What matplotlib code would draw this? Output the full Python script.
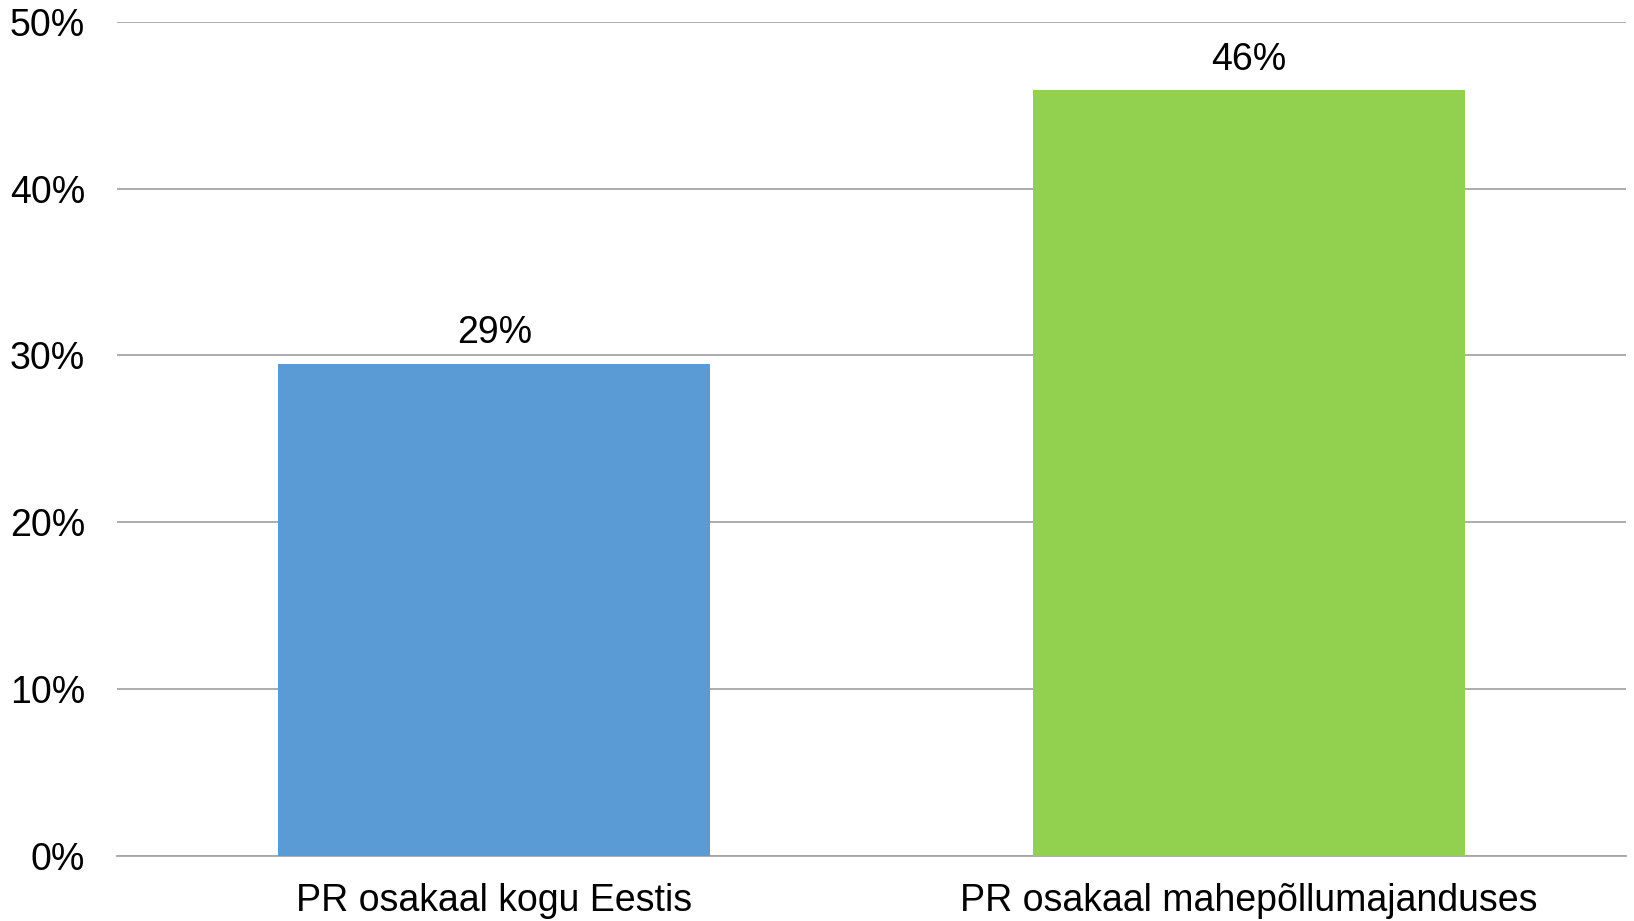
import matplotlib
matplotlib.use("Agg")
import matplotlib.pyplot as plt
from matplotlib.ticker import PercentFormatter

categories = ["PR osakaal kogu Eestis", "PR osakaal mahepõllumajanduses"]
values = [0.295, 0.459]
labels = ["29%", "46%"]
colors = ["#5B9BD5", "#92D050"]
yticks = [0, 0.1, 0.2, 0.3, 0.4, 0.5]

plt.rcParams['font.family'] = ['Liberation Sans', 'DejaVu Sans']

fig = plt.figure(figsize=(16.34, 9.21), dpi=100)
ax = fig.add_axes([117/1634, 1 - 855.6/921, (1626-117)/1634, (855.6-21.9)/921])

x = list(range(len(categories)))
bars = ax.bar(x, values, width=0.573, color=colors, zorder=3)
for b, lab in zip(bars, labels):
    ax.annotate(lab, (b.get_x() + b.get_width()/2, b.get_height()),
                xytext=(0, 9), textcoords="offset points",
                ha="center", va="bottom", fontsize=27, color="black")

ax.set_xlim(-0.5, 1.5)
ax.set_ylim(0, 0.5)
ax.set_yticks(yticks)
ax.yaxis.set_major_formatter(PercentFormatter(1.0, decimals=0))
ax.set_xticks(x)
ax.set_xticklabels(categories)
ax.grid(axis="y", color="#A6A6A6", linewidth=1.3, zorder=0)
for s in ["top", "right", "left"]:
    ax.spines[s].set_visible(False)
ax.spines["bottom"].set_color("#A6A6A6")
ax.spines["bottom"].set_linewidth(1.3)
ax.tick_params(axis="y", length=0, pad=23, labelsize=27)
ax.tick_params(axis="x", length=0, pad=20, labelsize=27)

fig.savefig("out.png", dpi=100, facecolor="white")
